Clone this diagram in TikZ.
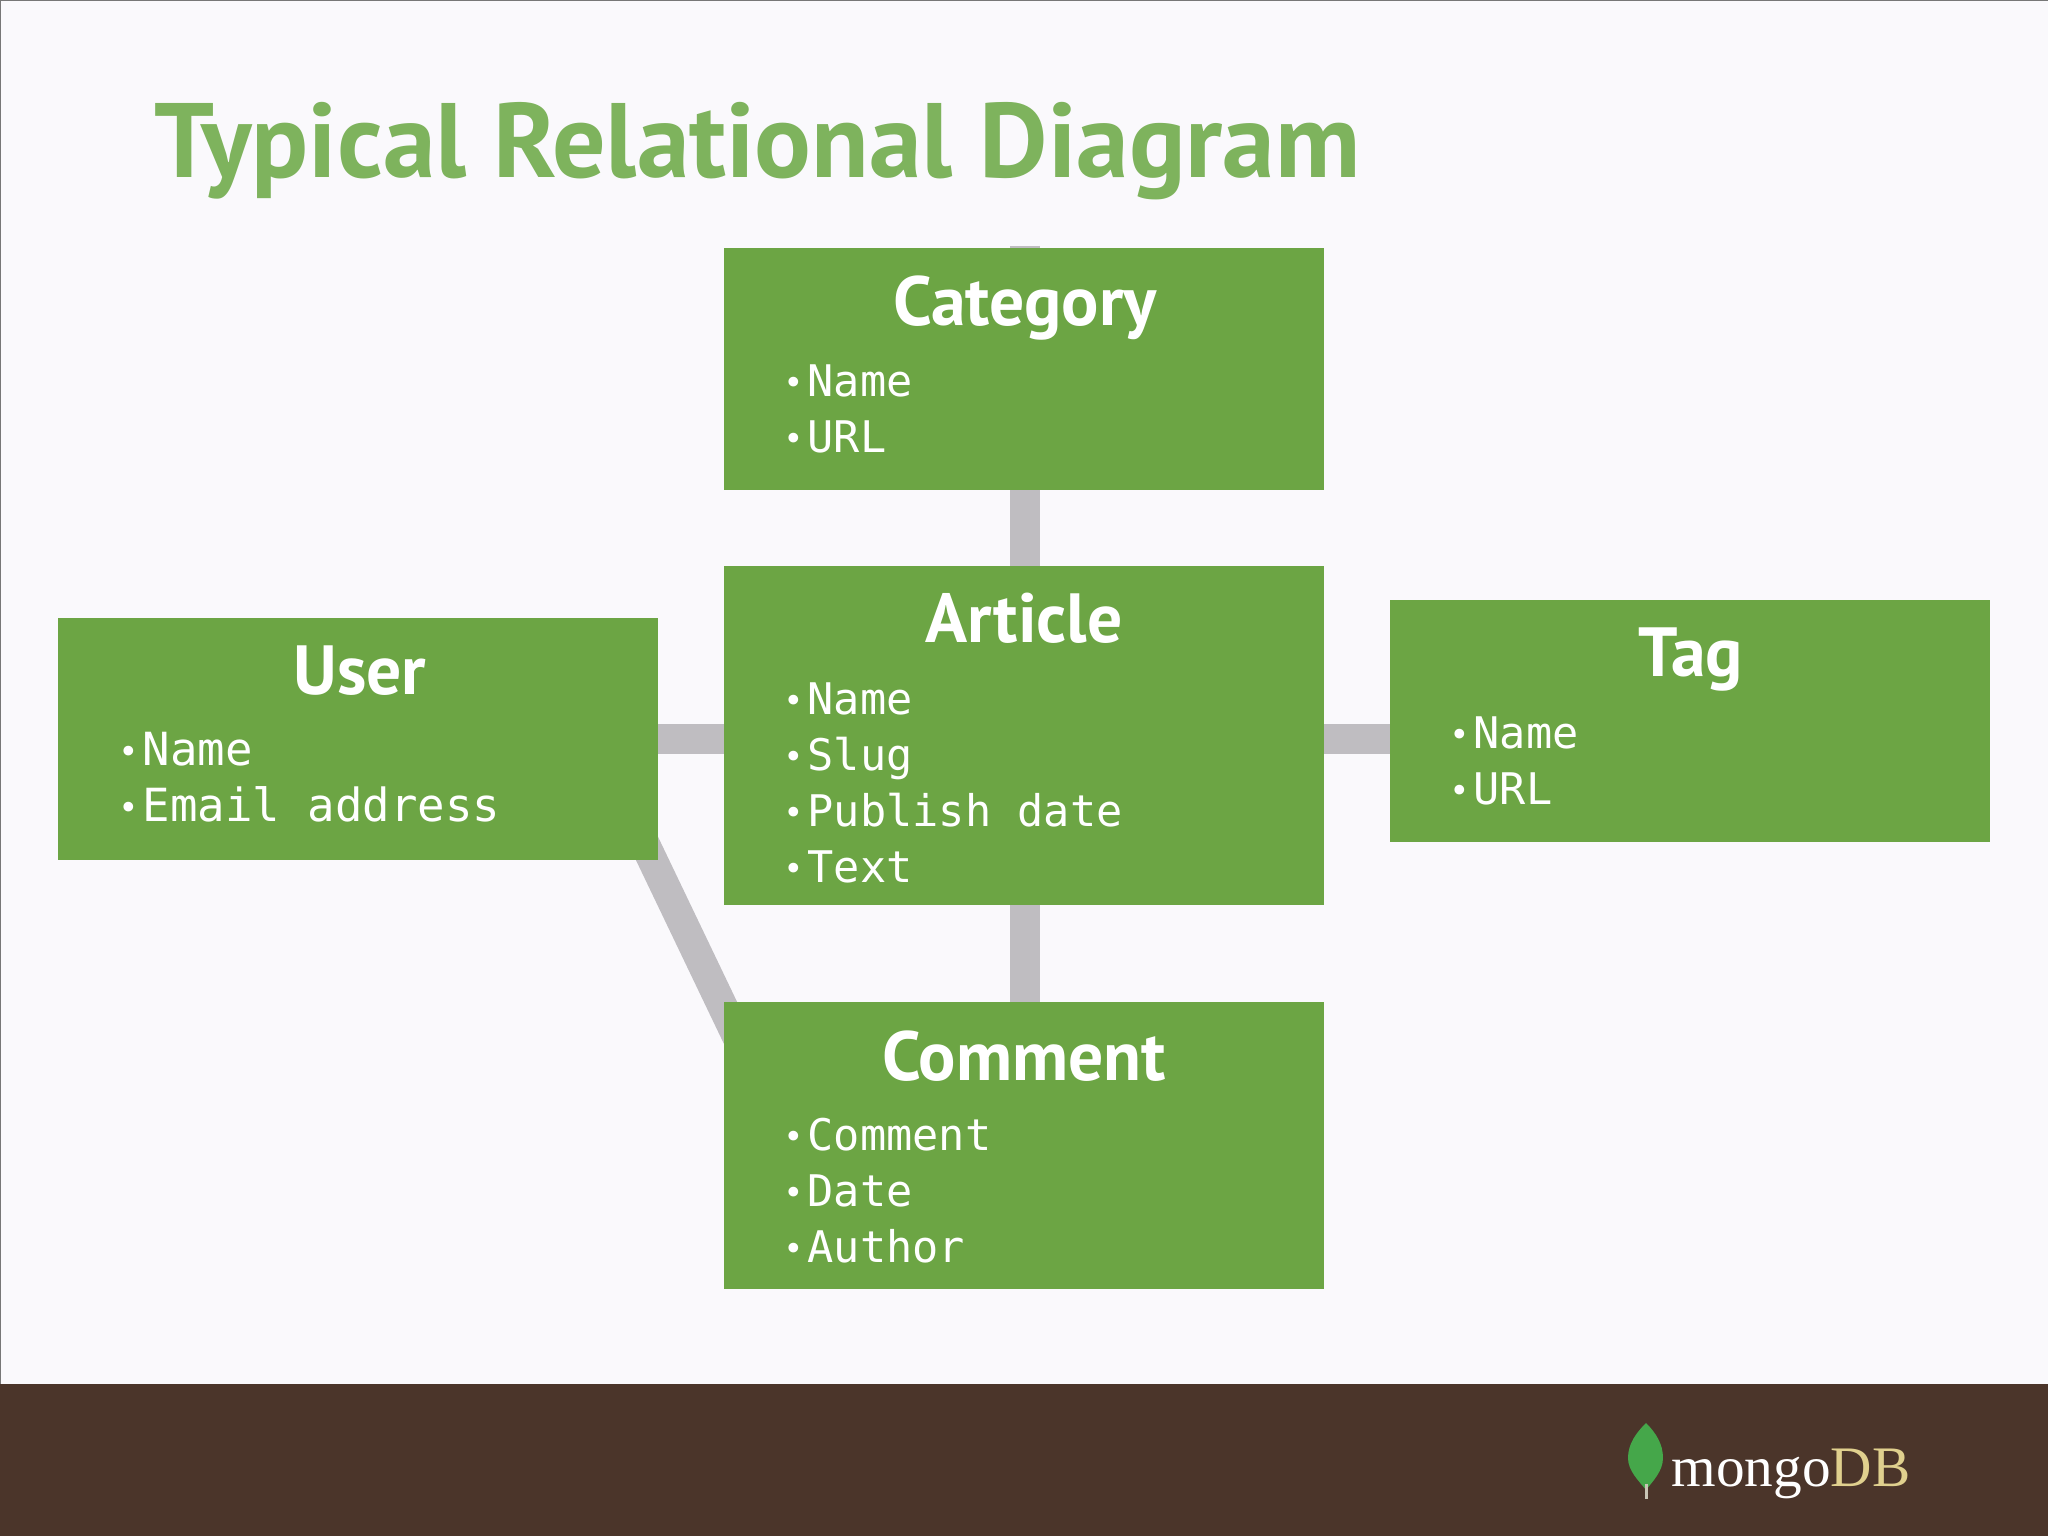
\documentclass[tikz,border=0pt]{standalone}
\usepackage{fontspec}
\usepackage{tikz}
\usetikzlibrary{backgrounds}
\setmainfont{PT Sans}
\setmonofont{DejaVu Sans Mono}
\newfontfamily\logofont{Liberation Serif}
\definecolor{slidebg}{HTML}{FAF9FC}
\definecolor{slideedge}{HTML}{777777}
\definecolor{footerbrown}{HTML}{4B352A}
\definecolor{boxgreen}{HTML}{6CA544}
\definecolor{titlegreen}{HTML}{7EB35D}
\definecolor{linkgray}{HTML}{BFBDC1}
\definecolor{leafgreen}{HTML}{45A74A}
\definecolor{leafstem}{HTML}{C9C5B5}
\definecolor{dbgold}{HTML}{E0D08E}
\newcommand{\itemdot}{\llap{\fontsize{9.5pt}{9.5pt}\selectfont\raisebox{0.8pt}{\textbullet}\hspace{1.2pt}}}

\begin{document}
\begin{tikzpicture}[
    box/.style={fill=boxgreen, minimum width=6cm, inner sep=0pt, outer sep=0pt},
    boxtitle/.style={anchor=base, text=white, inner sep=0pt, font=\fontsize{19.8pt}{19.8pt}\selectfont\bfseries},
    attr/.style={anchor=base west, text=white, inner sep=0pt, font=\fontsize{12.4pt}{12.4pt}\selectfont\ttfamily},
    userattr/.style={attr, font=\fontsize{13pt}{13pt}\selectfont\ttfamily},
    link/.style={draw=linkgray, line width=0.3cm}]
\useasboundingbox (0,0) rectangle (20.48,15.36);

\node[box, minimum height=2.42cm] (category) at (10.24,11.67) {};
\node[box, minimum height=3.39cm] (article) at (10.24,8.005) {};
\node[box, minimum height=2.87cm] (comment) at (10.24,3.905) {};
\node[box, minimum height=2.42cm] (user) at (3.58,7.97) {};
\node[box, minimum height=2.42cm] (tag) at (16.90,8.15) {};

\node[boxtitle] (categorytitle) at (10.25,12.10) {Category};
\node[attr] (categoryname) at (8.07,11.39) {\itemdot Name};
\node[attr] (categoryurl) at (8.07,10.83) {\itemdot URL};

\node[boxtitle] (articletitle) at (10.24,8.93) {Article};
\node[attr] (articlename) at (8.07,8.21) {\itemdot Name};
\node[attr] (articleslug) at (8.07,7.65) {\itemdot Slug};
\node[attr] (articledate) at (8.07,7.09) {\itemdot Publish date};
\node[attr] (articletext) at (8.07,6.53) {\itemdot Text};

\node[boxtitle] (commenttitle) at (10.24,4.55) {Comment};
\node[attr] (commentcomment) at (8.07,3.85) {\itemdot Comment};
\node[attr] (commentdate) at (8.07,3.29) {\itemdot Date};
\node[attr] (commentauthor) at (8.07,2.73) {\itemdot Author};

\node[boxtitle] (usertitle) at (3.60,8.41) {User};
\node[userattr] (username) at (1.42,7.70) {\itemdot Name};
\node[userattr] (useremail) at (1.42,7.14) {\itemdot Email address};

\node[boxtitle] (tagtitle) at (16.91,8.59) {Tag};
\node[attr] (tagname) at (14.73,7.87) {\itemdot Name};
\node[attr] (tagurl) at (14.73,7.31) {\itemdot URL};

\node[anchor=base west, text=titlegreen, inner sep=0pt, font=\fontsize{30.1pt}{30.1pt}\selectfont\bfseries] (slidetitle) at (1.54,13.58) {Typical Relational Diagram};

\begin{scope}[on background layer]
\fill[slidebg] (0,0) rectangle (20.48,15.36);
\fill[footerbrown] (0,0) rectangle (20.48,1.52);
\draw[slideedge, line width=0.03cm] (0,1.52) -- (0,15.36) -- (20.48,15.36);
\draw[link] ([xshift=0.01cm,yshift=0.02cm]category.north) -- ([xshift=0.01cm]article.north);
\draw[link] ([xshift=0.01cm]article.south) -- ([xshift=0.01cm]comment.north);
\draw[link] (user.east) -- (user.east -| article.west);
\draw[link] (article.east |- user.east) -- (tag.west |- user.east);
\draw[link, shorten <=-0.4cm, shorten >=-0.7cm] ([xshift=-0.055cm]user.south east) -- ([xshift=-0.035cm]comment.north west);
\end{scope}

% logo
\fill[leafgreen] (16.46,1.13) .. controls (16.36,1.03) and (16.28,0.92) .. (16.28,0.78)
  .. controls (16.28,0.65) and (16.39,0.55) .. (16.46,0.46)
  .. controls (16.53,0.55) and (16.63,0.65) .. (16.63,0.78)
  .. controls (16.63,0.92) and (16.56,1.03) .. (16.46,1.13);
\draw[leafstem, line width=0.03cm] (16.46,0.52) -- (16.46,0.37);
\node[anchor=base west, text=white, inner sep=0pt, font=\fontsize{16.3pt}{16.3pt}\logofont] (logotext) at (16.71,0.49) {mongo\textcolor{dbgold}{DB}};
\end{tikzpicture}
\end{document}
